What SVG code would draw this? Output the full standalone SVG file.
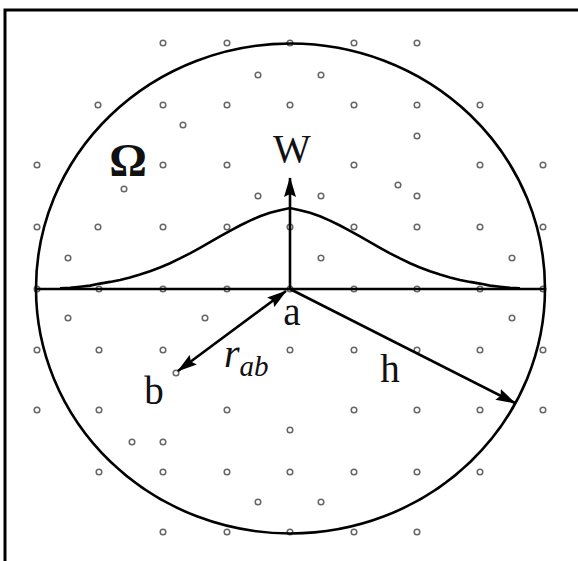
<svg xmlns="http://www.w3.org/2000/svg" width="578" height="561" viewBox="0 0 578 561">
<style>
.dot{fill:#fff;stroke:#666;stroke-width:1.5}
.ln{fill:none;stroke:#000;stroke-width:2.6}
.lbl{font-family:"Liberation Serif",serif;fill:#111;text-anchor:middle}
</style>
<defs>
<marker id="ah" viewBox="0 0 20 12" refX="19" refY="6" markerWidth="20" markerHeight="12" markerUnits="userSpaceOnUse" orient="auto-start-reverse">
<path d="M0,0 L20,6 L0,12 L3,6 z" fill="#000"/>
</marker>
</defs>
<rect width="578" height="561" fill="#fff"/>
<rect x="5" y="10" width="620" height="620" fill="none" stroke="#000" stroke-width="3"/>
<g id="particles">
<circle class="dot" cx="163" cy="43" r="2.8"/><circle class="dot" cx="227" cy="43" r="2.8"/><circle class="dot" cx="290" cy="43" r="2.8"/><circle class="dot" cx="354" cy="43" r="2.8"/><circle class="dot" cx="417" cy="43" r="2.8"/>
<circle class="dot" cx="258" cy="75" r="2.8"/><circle class="dot" cx="321" cy="75" r="2.8"/>
<circle class="dot" cx="98" cy="105" r="2.8"/><circle class="dot" cx="163" cy="105" r="2.8"/><circle class="dot" cx="227" cy="105" r="2.8"/><circle class="dot" cx="290" cy="105" r="2.8"/><circle class="dot" cx="354" cy="105" r="2.8"/><circle class="dot" cx="417" cy="105" r="2.8"/><circle class="dot" cx="480" cy="105" r="2.8"/>
<circle class="dot" cx="183" cy="125" r="2.8"/><circle class="dot" cx="417" cy="136" r="2.8"/>
<circle class="dot" cx="37" cy="165" r="2.8"/><circle class="dot" cx="163" cy="165" r="2.8"/><circle class="dot" cx="227" cy="165" r="2.8"/><circle class="dot" cx="354" cy="165" r="2.8"/><circle class="dot" cx="480" cy="165" r="2.8"/><circle class="dot" cx="543" cy="165" r="2.8"/>
<circle class="dot" cx="398" cy="185" r="2.8"/><circle class="dot" cx="124" cy="189" r="2.8"/>
<circle class="dot" cx="258" cy="196" r="2.8"/><circle class="dot" cx="321" cy="196" r="2.8"/><circle class="dot" cx="417" cy="196" r="2.8"/>
<circle class="dot" cx="37" cy="227" r="2.8"/><circle class="dot" cx="98" cy="227" r="2.8"/><circle class="dot" cx="163" cy="227" r="2.8"/><circle class="dot" cx="227" cy="227" r="2.8"/><circle class="dot" cx="290" cy="227" r="2.8"/><circle class="dot" cx="354" cy="227" r="2.8"/><circle class="dot" cx="417" cy="227" r="2.8"/><circle class="dot" cx="480" cy="227" r="2.8"/><circle class="dot" cx="543" cy="227" r="2.8"/>
<circle class="dot" cx="68" cy="258" r="2.8"/><circle class="dot" cx="321" cy="258" r="2.8"/><circle class="dot" cx="512" cy="258" r="2.8"/>
<circle class="dot" cx="37" cy="289" r="2.8"/><circle class="dot" cx="99" cy="289" r="2.8"/><circle class="dot" cx="163" cy="289" r="2.8"/><circle class="dot" cx="227" cy="289" r="2.8"/><circle class="dot" cx="290" cy="289" r="2.8"/><circle class="dot" cx="354" cy="289" r="2.8"/><circle class="dot" cx="417" cy="289" r="2.8"/><circle class="dot" cx="480" cy="289" r="2.8"/><circle class="dot" cx="543" cy="289" r="2.8"/>
<circle class="dot" cx="68" cy="318" r="2.8"/><circle class="dot" cx="205" cy="318" r="2.8"/><circle class="dot" cx="512" cy="318" r="2.8"/>
<circle class="dot" cx="37" cy="350" r="2.8"/><circle class="dot" cx="99" cy="350" r="2.8"/><circle class="dot" cx="163" cy="350" r="2.8"/><circle class="dot" cx="290" cy="350" r="2.8"/><circle class="dot" cx="354" cy="350" r="2.8"/><circle class="dot" cx="417" cy="350" r="2.8"/><circle class="dot" cx="480" cy="350" r="2.8"/><circle class="dot" cx="543" cy="350" r="2.8"/>
<circle class="dot" cx="176" cy="373" r="2.8"/>
<circle class="dot" cx="37" cy="410" r="2.8"/><circle class="dot" cx="99" cy="410" r="2.8"/><circle class="dot" cx="227" cy="410" r="2.8"/><circle class="dot" cx="354" cy="410" r="2.8"/><circle class="dot" cx="417" cy="410" r="2.8"/><circle class="dot" cx="480" cy="410" r="2.8"/><circle class="dot" cx="543" cy="410" r="2.8"/>
<circle class="dot" cx="290" cy="430" r="2.8"/><circle class="dot" cx="132" cy="442" r="2.8"/><circle class="dot" cx="163" cy="442" r="2.8"/>
<circle class="dot" cx="99" cy="472" r="2.8"/><circle class="dot" cx="163" cy="472" r="2.8"/><circle class="dot" cx="227" cy="472" r="2.8"/><circle class="dot" cx="290" cy="472" r="2.8"/><circle class="dot" cx="354" cy="472" r="2.8"/><circle class="dot" cx="417" cy="472" r="2.8"/><circle class="dot" cx="480" cy="472" r="2.8"/>
<circle class="dot" cx="258" cy="502" r="2.8"/><circle class="dot" cx="321" cy="502" r="2.8"/>
<circle class="dot" cx="163" cy="532" r="2.8"/><circle class="dot" cx="227" cy="532" r="2.8"/><circle class="dot" cx="290" cy="532" r="2.8"/><circle class="dot" cx="354" cy="532" r="2.8"/><circle class="dot" cx="417" cy="532" r="2.8"/>
</g>
<g id="domain">
<ellipse class="ln" cx="290.5" cy="288.5" rx="254.5" ry="245"/>
<line class="ln" x1="36" y1="289" x2="545" y2="289"/>
</g>
<g id="kernel">
<polyline class="ln" points="60,288.4 70,287.8 80,286.7 90,285.6 100,283.6 110,281.9 120,279.9 130,277.5 140,274.6 150,271.3 160,267.5 170,263.2 180,258.4 190,253.3 200,247.8 210,242.1 220,236.4 230,230.8 240,225.5 250,220.6 260,216.3 270,212.8 280,210.2 290,208 300,210.2 310,212.8 320,216.3 330,220.6 340,225.5 350,230.8 360,236.4 370,242.1 380,247.8 390,253.3 400,258.4 410,263.2 420,267.5 430,271.3 440,274.6 450,277.5 460,279.9 470,281.9 480,283.6 490,285.6 500,286.7 510,287.8 520,288.4"/>
</g>
<g id="connectors">
<line class="ln" x1="290" y1="289" x2="290" y2="178" marker-end="url(#ah)"/>
<line class="ln" x1="286" y1="291" x2="178" y2="371" marker-start="url(#ah)" marker-end="url(#ah)"/>
<line class="ln" x1="290" y1="289" x2="515" y2="403" marker-end="url(#ah)"/>
</g>
<g id="labels">
<text class="lbl" x="128" y="176" font-size="47" font-weight="bold">Ω</text>
<text class="lbl" x="292" y="162" font-size="40">W</text>
<text class="lbl" x="292" y="325" font-size="39">a</text>
<text class="lbl" x="154" y="404" font-size="39">b</text>
<text class="lbl" x="390" y="382" font-size="39">h</text>
<text font-family="'Liberation Serif',serif" font-style="italic" fill="#111" x="224" y="367" font-size="40">r<tspan font-size="29" dy="9">ab</tspan></text>
</g>
</svg>
